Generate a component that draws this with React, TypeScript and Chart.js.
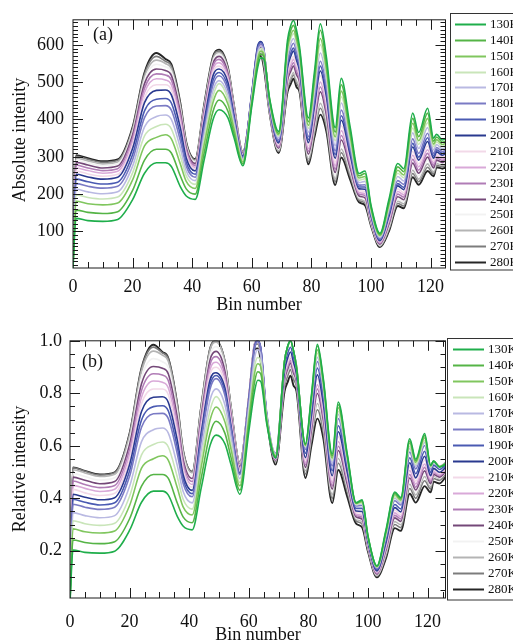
import React, { useEffect, useRef } from "react";
import { Chart, registerables } from "chart.js";

Chart.register(...registerables);

// ---------------- data ----------------
const bins = [0, 1, 5, 10, 15, 20, 24, 28, 31, 33, 36, 38, 41, 44, 47, 49, 52, 54, 57, 60, 62, 63, 64, 66, 69, 72, 73, 74, 75, 76, 79, 81, 83, 85, 88, 90, 93, 96, 98, 100, 103, 106, 109, 111, 114, 116, 119, 121, 122, 124, 126];

const temperatures = ["130K", "140K", "150K", "160K", "170K", "180K", "190K", "200K", "210K", "220K", "230K", "240K", "250K", "260K", "270K", "280K"];

const lineColors = ["#1fae4b", "#55b446", "#80c65e", "#c9e5b9", "#b9b9e2", "#7a7ac4", "#4a5ab2", "#29398f", "#f2d9e8", "#d9a9d8", "#b07cb6", "#744878", "#f2f2f2", "#b4b4b4", "#7c7c7c", "#262626"];

const abs130K = [2, 135, 129, 127, 132, 185, 256, 284, 284, 274, 220, 195, 186, 291, 400, 426, 404, 352, 276, 435, 540, 565, 562, 455, 368, 613, 650, 665, 640, 596, 404, 526, 656, 569, 378, 510, 380, 255, 262, 170, 95, 185, 282, 268, 417, 365, 430, 350, 360, 345, 352];
const abs140K = [6, 157, 151, 148, 153, 210, 291, 320, 320, 310, 249, 214, 200, 310, 422, 452, 422, 363, 281, 443, 552, 575, 570, 452, 363, 602, 637, 652, 627, 586, 394, 512, 639, 553, 366, 493, 369, 249, 255, 166, 92, 178, 273, 260, 403, 354, 417, 342, 353, 339, 346];
const abs150K = [9, 181, 174, 171, 176, 238, 329, 352, 359, 348, 281, 234, 215, 331, 446, 478, 441, 376, 286, 449, 562, 583, 576, 449, 359, 591, 624, 639, 614, 577, 384, 498, 617, 537, 353, 476, 357, 243, 247, 161, 89, 171, 264, 251, 390, 343, 403, 334, 346, 333, 341];
const abs160K = [12, 198, 191, 187, 192, 257, 356, 381, 387, 375, 303, 249, 226, 346, 463, 496, 454, 384, 290, 455, 571, 590, 580, 446, 355, 581, 615, 630, 605, 568, 376, 486, 600, 523, 343, 461, 348, 237, 241, 157, 87, 165, 256, 244, 377, 333, 391, 327, 340, 327, 336];
const abs170K = [15, 213, 206, 201, 206, 275, 380, 408, 412, 400, 324, 262, 236, 359, 478, 504, 466, 392, 293, 460, 579, 596, 584, 443, 350, 570, 602, 617, 592, 558, 366, 472, 578, 507, 330, 444, 336, 231, 234, 153, 84, 159, 247, 235, 364, 322, 378, 318, 333, 321, 330];
const abs180K = [18, 228, 221, 216, 221, 292, 405, 436, 437, 425, 344, 275, 245, 372, 493, 517, 478, 400, 296, 464, 587, 602, 588, 439, 345, 557, 589, 604, 580, 547, 354, 456, 556, 489, 316, 425, 324, 224, 225, 148, 80, 151, 236, 226, 348, 309, 363, 309, 325, 314, 324];
const abs190K = [20, 240, 233, 227, 232, 306, 423, 454, 456, 444, 360, 285, 253, 383, 505, 526, 488, 406, 299, 468, 593, 606, 590, 436, 341, 548, 576, 591, 567, 539, 346, 444, 543, 475, 306, 410, 314, 219, 219, 144, 78, 145, 228, 218, 336, 299, 351, 302, 319, 309, 319];
const abs200K = [22, 253, 246, 240, 245, 322, 445, 478, 479, 466, 378, 297, 262, 395, 518, 535, 499, 413, 302, 471, 598, 609, 591, 434, 337, 539, 568, 583, 559, 531, 338, 434, 530, 463, 296, 398, 305, 214, 213, 141, 75, 140, 222, 212, 326, 291, 341, 296, 313, 304, 315];
const abs210K = [24, 262, 254, 248, 253, 331, 459, 493, 493, 480, 389, 304, 267, 402, 527, 543, 505, 417, 304, 469, 595, 604, 585, 431, 333, 530, 554, 569, 546, 523, 330, 422, 517, 449, 286, 383, 295, 209, 207, 137, 73, 134, 214, 204, 314, 281, 329, 289, 307, 299, 310];
const abs220K = [26, 270, 263, 256, 261, 341, 472, 509, 506, 493, 400, 311, 272, 409, 535, 552, 512, 422, 306, 468, 593, 601, 580, 429, 330, 521, 546, 561, 538, 516, 322, 411, 500, 437, 276, 370, 287, 204, 201, 134, 71, 129, 207, 198, 304, 273, 319, 283, 302, 294, 306];
const abs230K = [28, 278, 270, 263, 268, 350, 484, 522, 519, 506, 410, 318, 277, 416, 543, 561, 518, 426, 307, 467, 590, 597, 575, 426, 326, 513, 537, 552, 529, 508, 315, 401, 487, 425, 267, 357, 279, 200, 196, 130, 68, 124, 200, 192, 293, 264, 309, 277, 297, 290, 302];
const abs240K = [30, 285, 278, 270, 275, 359, 496, 535, 531, 518, 420, 324, 282, 423, 550, 569, 524, 429, 309, 465, 587, 593, 569, 424, 323, 505, 528, 543, 520, 501, 307, 390, 474, 413, 258, 345, 270, 195, 190, 127, 66, 119, 193, 185, 283, 256, 299, 270, 291, 285, 297];
const abs250K = [32, 291, 284, 276, 281, 365, 506, 548, 541, 528, 428, 329, 286, 428, 556, 575, 529, 433, 310, 463, 583, 588, 563, 422, 320, 498, 520, 535, 512, 495, 301, 382, 456, 403, 250, 334, 263, 191, 186, 124, 64, 114, 187, 180, 274, 249, 291, 265, 287, 281, 294];
const abs260K = [34, 296, 289, 281, 286, 371, 514, 559, 550, 536, 435, 334, 289, 432, 561, 579, 533, 435, 311, 460, 578, 582, 556, 419, 316, 489, 511, 526, 503, 487, 294, 371, 443, 391, 241, 321, 255, 187, 180, 121, 62, 109, 181, 174, 264, 240, 281, 259, 282, 277, 290];
const abs270K = [36, 301, 293, 285, 290, 376, 521, 569, 556, 543, 441, 337, 292, 436, 566, 583, 536, 437, 312, 457, 573, 576, 549, 417, 314, 482, 504, 519, 497, 481, 287, 362, 430, 381, 233, 311, 248, 183, 176, 118, 60, 105, 175, 168, 255, 233, 272, 254, 277, 273, 286];
const abs280K = [38, 304, 296, 288, 293, 380, 526, 578, 562, 548, 445, 340, 294, 439, 569, 587, 539, 439, 313, 454, 568, 570, 541, 415, 310, 474, 494, 509, 487, 474, 280, 352, 413, 369, 224, 298, 239, 178, 170, 115, 58, 100, 168, 162, 245, 225, 262, 248, 272, 268, 282];

const absoluteSeries = [abs130K, abs140K, abs150K, abs160K, abs170K, abs180K, abs190K, abs200K, abs210K, abs220K, abs230K, abs240K, abs250K, abs260K, abs270K, abs280K];

// relative intensity: each series divided by its own maximum
const relativeSeries = absoluteSeries.map((s) => {
  const m = Math.max(...s);
  return s.map((v) => v / m);
});

const xTickValues = [0, 20, 40, 60, 80, 100, 120];
const absTickValues = [100, 200, 300, 400, 500, 600];
const relTickValues = [0.2, 0.4, 0.6, 0.8, 1.0];

// ---------------- layout ----------------
const FONT = '"Liberation Serif", "Times New Roman", serif';
const W = 513;
const H = 322;

type PanelSpec = {
  series: number[][];
  yMin: number;
  yMax: number;
  xMax: number;
  yTicks: number[];
  yMajor: number;
  yMinor: number;
  yDecimals: number;
  yPad: number;
  xPad: number;
  area: { left: number; top: number; right: number; bottom: number };
  yTitle: string;
  yTitleX: number;
  yTitleY: number;
  xTitleX: number;
  xTitleY: number;
  tag: string;
  tagX: number;
  tagY: number;
  legend: { left: number; top: number; bottom: number; y0: number; step: number; x0: number; x1: number; tx: number };
};

const panelA: PanelSpec = {
  series: absoluteSeries,
  yMin: 2,
  yMax: 667,
  xMax: 125,
  yTicks: absTickValues,
  yMajor: 100,
  yMinor: 10,
  yDecimals: 0,
  yPad: 9,
  xPad: 8,
  area: { left: 73, top: 13, right: 445.5, bottom: 268 },
  yTitle: "Absolute intenity",
  yTitleX: 20,
  yTitleY: 140,
  xTitleX: 259,
  xTitleY: 305,
  tag: "(a)",
  tagX: 93,
  tagY: 35,
  legend: { left: 450.5, top: 13.5, bottom: 270, y0: 24, step: 15.87, x0: 455, x1: 486, tx: 490 },
};

const panelB: PanelSpec = {
  series: relativeSeries,
  yMin: 0.02,
  yMax: 1.0,
  xMax: 126,
  yTicks: relTickValues,
  yMajor: 0.2,
  yMinor: 0.05,
  yDecimals: 1,
  yPad: 8,
  xPad: 13,
  area: { left: 70, top: 16.5, right: 445.5, bottom: 276 },
  yTitle: "Relative intensity",
  yTitleX: 20,
  yTitleY: 147,
  xTitleX: 258,
  xTitleY: 313,
  tag: "(b)",
  tagX: 82,
  tagY: 40,
  legend: { left: 447.5, top: 16.5, bottom: 278, y0: 27.3, step: 16, x0: 453, x1: 484, tx: 488 },
};

function decorPlugin(spec: PanelSpec) {
  return {
    id: "decor",
    afterDraw(chart: any) {
      const { ctx, chartArea: a, scales } = chart;
      const xs = scales.x;
      const ys = scales.y;
      const seg = (x1: number, y1: number, x2: number, y2: number) => {
        ctx.beginPath();
        ctx.moveTo(x1, y1);
        ctx.lineTo(x2, y2);
        ctx.stroke();
      };
      ctx.save();
      ctx.strokeStyle = "#1a1a1a";
      ctx.lineWidth = 1;
      // frame
      ctx.strokeRect(a.left, a.top, a.right - a.left, a.bottom - a.top);
      // x ticks (inward, top and bottom)
      for (let v = 5; v < xs.max; v += 5) {
        const px = Math.round(xs.getPixelForValue(v)) + 0.5;
        const len = v % 20 === 0 ? 10 : 6;
        seg(px, a.bottom, px, a.bottom - len);
        seg(px, a.top, px, a.top + len);
      }
      // y ticks (inward, left and right)
      const n = Math.round(spec.yMax / spec.yMinor);
      const ratio = Math.round(spec.yMajor / spec.yMinor);
      for (let k = 1; k <= n; k++) {
        const v = k * spec.yMinor;
        if (v < spec.yMin || v > spec.yMax + 1e-9) continue;
        const py = Math.round(ys.getPixelForValue(v)) + 0.5;
        const len = k % ratio === 0 ? 10 : 5;
        seg(a.left, py, a.left + len, py);
        seg(a.right, py, a.right - len, py);
      }
      // titles
      ctx.fillStyle = "#111";
      ctx.font = `18px ${FONT}`;
      ctx.textAlign = "center";
      ctx.textBaseline = "middle";
      ctx.fillText("Bin number", spec.xTitleX, spec.xTitleY);
      ctx.save();
      ctx.translate(spec.yTitleX, spec.yTitleY);
      ctx.rotate(-Math.PI / 2);
      ctx.fillText(spec.yTitle, 0, 0);
      ctx.restore();
      ctx.textAlign = "left";
      ctx.fillText(spec.tag, spec.tagX, spec.tagY);
      // legend
      const lg = spec.legend;
      ctx.strokeStyle = "#333";
      ctx.lineWidth = 1;
      ctx.strokeRect(lg.left, lg.top, W + 10 - lg.left, lg.bottom - lg.top);
      ctx.font = `13px ${FONT}`;
      ctx.textBaseline = "middle";
      chart.data.datasets.forEach((ds: any, i: number) => {
        const y = Math.round(lg.y0 + i * lg.step) + 0.5;
        ctx.strokeStyle = ds.borderColor;
        ctx.lineWidth = 2;
        seg(lg.x0, y, lg.x1, y);
        ctx.fillStyle = "#111";
        ctx.fillText(ds.label, lg.tx, y);
      });
      ctx.restore();
    },
  };
}

function Panel({ spec, top }: { spec: PanelSpec; top: number }) {
  const ref = useRef<HTMLCanvasElement>(null);
  useEffect(() => {
    if (!ref.current) return;
    const chart = new Chart(ref.current, {
      type: "line",
      data: {
        datasets: temperatures.map((t, i) => ({
          label: t,
          data: bins.map((b, j) => ({ x: b, y: spec.series[i][j] })),
          borderColor: lineColors[i],
          borderWidth: i === 15 ? 1.9 : 1.6,
          pointRadius: 0,
          fill: false,
          cubicInterpolationMode: "monotone" as const,
        })),
      },
      options: {
        animation: false,
        responsive: false,
        events: [],
        layout: { padding: { left: 0, top: spec.area.top, right: W - spec.area.right, bottom: 0 } },
        plugins: { legend: { display: false }, tooltip: { enabled: false } },
        scales: {
          x: {
            type: "linear",
            min: 0,
            max: spec.xMax,
            grid: { display: false, drawTicks: false },
            border: { display: false },
            afterBuildTicks: (s: any) => {
              s.ticks = xTickValues.map((v) => ({ value: v }));
            },
            afterFit: (s: any) => {
              s.height = H - spec.area.bottom;
            },
            ticks: {
              autoSkip: false,
              maxRotation: 0,
              padding: spec.xPad,
              color: "#111",
              font: { family: FONT, size: 18 },
              callback: (v: any) => String(v),
            },
          },
          y: {
            type: "linear",
            min: spec.yMin,
            max: spec.yMax,
            grid: { display: false, drawTicks: false },
            border: { display: false },
            afterBuildTicks: (s: any) => {
              s.ticks = spec.yTicks.map((v) => ({ value: v }));
            },
            afterFit: (s: any) => {
              s.width = spec.area.left;
            },
            ticks: {
              autoSkip: false,
              padding: spec.yPad,
              color: "#111",
              font: { family: FONT, size: 18 },
              callback: (v: any) => Number(v).toFixed(spec.yDecimals),
            },
          },
        },
      },
      plugins: [decorPlugin(spec)],
    });
    return () => chart.destroy();
  }, [spec]);
  return (
    <canvas
      ref={ref}
      width={W}
      height={H}
      style={{ position: "absolute", left: 0, top, width: W, height: H }}
    />
  );
}

export default function App() {
  return (
    <div style={{ position: "absolute", left: 0, top: 0, width: W, height: 644, background: "#ffffff", overflow: "hidden" }}>
      <Panel spec={panelA} top={0} />
      <Panel spec={panelB} top={322} />
    </div>
  );
}
